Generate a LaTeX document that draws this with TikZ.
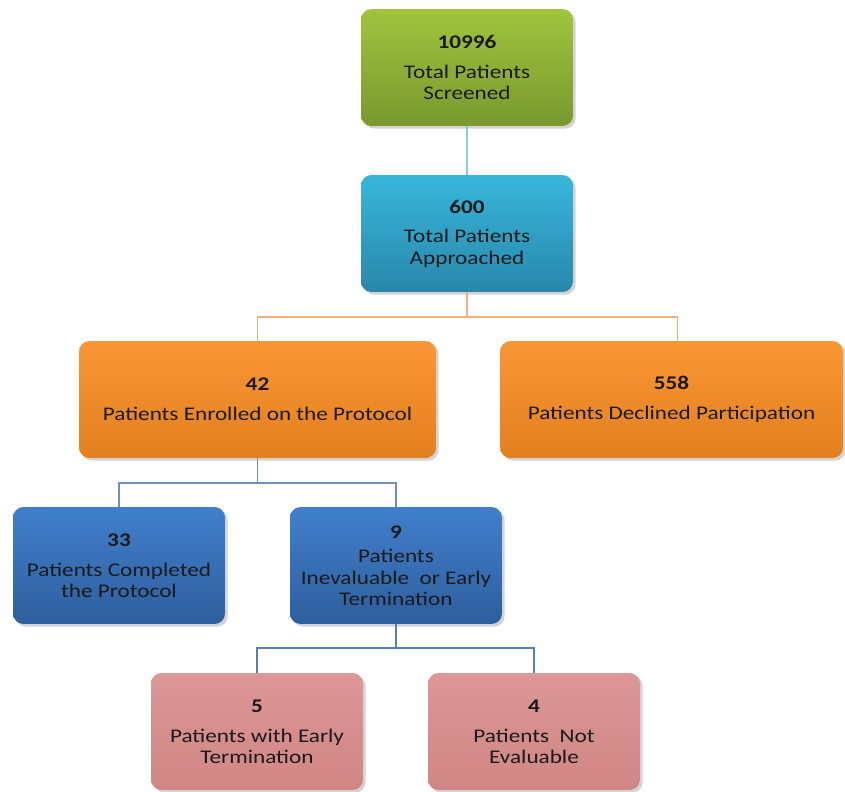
\documentclass[tikz,border=0pt]{standalone}
\usepackage{fontspec}
\setmainfont{Carlito}[FakeStretch=1.2]
\usetikzlibrary{shadows}

\definecolor{greentop}{HTML}{A0C43E}
\definecolor{greenbot}{HTML}{7A982E}
\definecolor{cyantop}{HTML}{38B7DB}
\definecolor{cyanbot}{HTML}{2887AB}
\definecolor{orangetop}{HTML}{F99737}
\definecolor{orangebot}{HTML}{E27F1E}
\definecolor{bluetop}{HTML}{417FCC}
\definecolor{bluebot}{HTML}{2E5E9C}
\definecolor{pinktop}{HTML}{DC9796}
\definecolor{pinkbot}{HTML}{D08685}
\definecolor{linecyan}{HTML}{8ECAE0}
\definecolor{lineorange}{HTML}{F2B07C}
\definecolor{lineblue}{HTML}{6E90C2}
\definecolor{lineslate}{HTML}{5B7FAF}
\definecolor{txt}{HTML}{1A1A1A}

\tikzset{
  box/.style={rounded corners=6pt, text=txt, align=center,
    minimum height=2.34cm, font=\fontsize{11}{12}\selectfont,
    drop shadow={opacity=0.35, shadow xshift=1.5pt, shadow yshift=-1.5pt}},
  greenbox/.style={box, top color=greentop, bottom color=greenbot},
  cyanbox/.style={box, top color=cyantop, bottom color=cyanbot},
  orangebox/.style={box, top color=orangetop, bottom color=orangebot},
  bluebox/.style={box, top color=bluetop, bottom color=bluebot},
  pinkbox/.style={box, top color=pinktop, bottom color=pinkbot},
  link/.style={line width=1.1pt}
}

\begin{document}
\begin{tikzpicture}[x=0.02cm,y=-0.02cm]
\useasboundingbox (0,0) rectangle (845,791);

% boxes
\node[greenbox, minimum width=4.24cm] (screened) at (467,67.5)
  {\textbf{10996}\\[5pt]Total Patients\\Screened};
\node[cyanbox, minimum width=4.24cm] (approached) at (467,233.5)
  {\textbf{600}\\[5pt]Total Patients\\Approached};
\node[orangebox, minimum width=7.14cm] (enrolled) at (257.5,399.5)
  {\textbf{42}\\[5pt]Patients Enrolled on the Protocol};
\node[orangebox, minimum width=6.86cm] (declined) at (671.5,399.5)
  {\textbf{558}\\[5pt]Patients Declined Participation};
\node[bluebox, minimum width=4.24cm] (completed) at (119,565.5)
  {\textbf{33}\\[5pt]Patients Completed\\the Protocol};
\node[bluebox, minimum width=4.24cm] (inevaluable) at (396,565.5)
  {\textbf{9}\\[2pt]Patients\\Inevaluable\ \ or Early\\Termination};
\node[pinkbox, minimum width=4.24cm] (early) at (257,731.5)
  {\textbf{5}\\[5pt]Patients with Early\\Termination};
\node[pinkbox, minimum width=4.24cm] (noteval) at (534,731.5)
  {\textbf{4}\\[5pt]Patients\ \ Not\\Evaluable};

% connectors
\draw[link, linecyan] (screened) -- (approached);
\draw[link, lineorange] (approached.south) -- ++(0,25) -| (enrolled.north);
\draw[link, lineorange] (approached.south) -- ++(0,25) -| ([xshift=0.12cm]declined.north);
\draw[link, lineblue] (enrolled.south) -- ++(0,25) -| (completed.north);
\draw[link, lineblue] (enrolled.south) -- ++(0,25) -| (inevaluable.north);
\draw[link, lineslate] (inevaluable.south) -- ++(0,24) -| (early.north);
\draw[link, lineslate] (inevaluable.south) -- ++(0,24) -| (noteval.north);
\end{tikzpicture}
\end{document}
